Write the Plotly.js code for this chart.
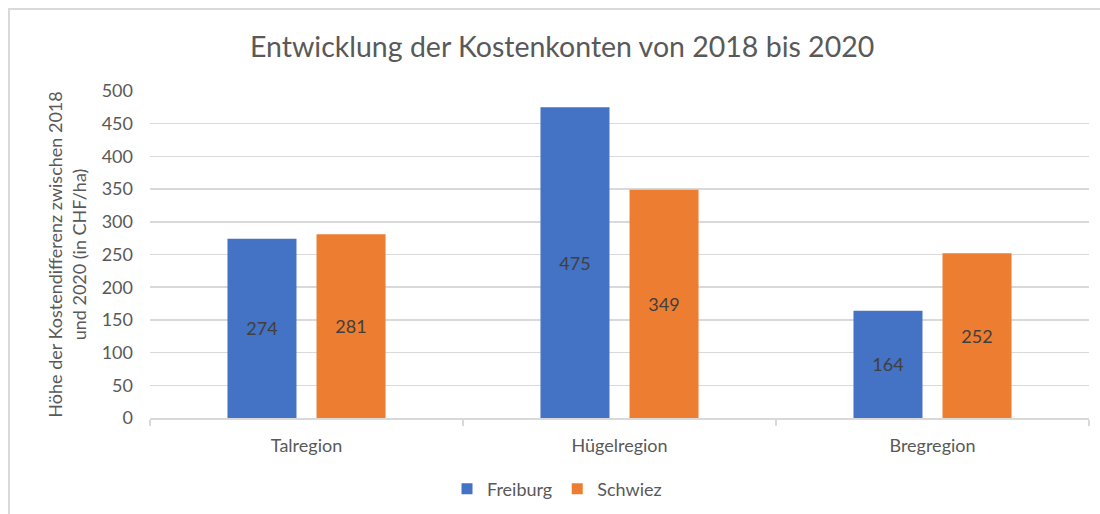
<!DOCTYPE html>
<html>
<head>
<meta charset="utf-8">
<script src="https://cdn.plot.ly/plotly-3.0.1.min.js"></script>
<style>
  html, body { margin: 0; padding: 0; background: #fff; overflow: hidden; }
  #frame { position: absolute; left: 8px; top: 8px; width: 1200px; height: 700px;
           border-left: 2px solid #d9d9d9; border-top: 2px solid #d9d9d9; }
  #chart { position: absolute; left: 0; top: 0; width: 1100px; height: 514px; }
</style>
</head>
<body>
<div id="frame"></div>
<div id="chart"></div>
<script>
const categories = ["Talregion", "Hügelregion", "Bregregion"];
const freiburg = [274, 475, 164];
const schwiez = [281, 349, 252];
const yTicks = [0, 50, 100, 150, 200, 250, 300, 350, 400, 450, 500];
const seriesNames = ["Freiburg", "Schwiez"];
const seriesColors = ["#4472C4", "#ED7D31"];

const font = "Lato, 'Open Sans', sans-serif";
const series = [freiburg, schwiez];
const traces = [];
series.forEach((vals, i) => {
  traces.push({ type: "bar", name: seriesNames[i], x: categories, y: vals, text: vals.map(String),
    textposition: "inside", insidetextanchor: "middle",
    textfont: { family: font, size: 18, color: "#404040" },
    marker: { color: seriesColors[i] }, hoverinfo: "none", showlegend: false });
});
series.forEach((vals, i) => {
  traces.push({ type: "scatter", mode: "markers", name: seriesNames[i], x: [null], y: [null],
    marker: { symbol: "square", size: 11, color: seriesColors[i] }, hoverinfo: "none", showlegend: true });
});

const layout = {
  width: 1100, height: 514,
  margin: { l: 150, r: 11, t: 91, b: 96 },
  paper_bgcolor: "rgba(0,0,0,0)", plot_bgcolor: "rgba(0,0,0,0)",
  font: { family: font, color: "#595959", size: 18 },
  title: { text: "Entwicklung der Kostenkonten von 2018 bis 2020",
           font: { family: font, size: 28.5, color: "#595959" },
           x: 0.511, xref: "container", xanchor: "center",
           y: 1 - 47/514, yref: "container", yanchor: "middle" },
  barmode: "group", bargap: 0.431, bargroupgap: 0.225,
  showlegend: true,
  legend: { orientation: "h", x: 557/1100, xref: "container", xanchor: "center",
            y: 1 - 489/514, yref: "container", yanchor: "middle",
            font: { family: font, size: 18, color: "#595959" },
            itemwidth: 30, traceorder: "normal" },
  xaxis: { type: "category", showgrid: false, showline: true, linecolor: "#d9d9d9", linewidth: 1.5,
           ticks: "outside", tickson: "boundaries", ticklen: 6, tickcolor: "#d9d9d9", tickwidth: 1.5,
           ticklabelstandoff: 11,
           tickfont: { family: font, size: 18, color: "#595959" }, fixedrange: true },
  yaxis: { range: [0, 500], tickvals: yTicks, showgrid: true, gridcolor: "#d9d9d9", gridwidth: 1.5,
           zeroline: false, showline: false, ticks: "", ticklabelstandoff: 16,
           tickfont: { family: font, size: 18, color: "#595959" },
           title: { text: "Höhe der Kostendifferenz zwischen 2018<br>und 2020 (in CHF/ha)",
                    font: { family: font, size: 18, color: "#595959" }, standoff: 10 },
           automargin: false, fixedrange: true }
};

Plotly.newPlot("chart", traces, layout, { staticPlot: true, displayModeBar: false });
</script>
</body>
</html>
